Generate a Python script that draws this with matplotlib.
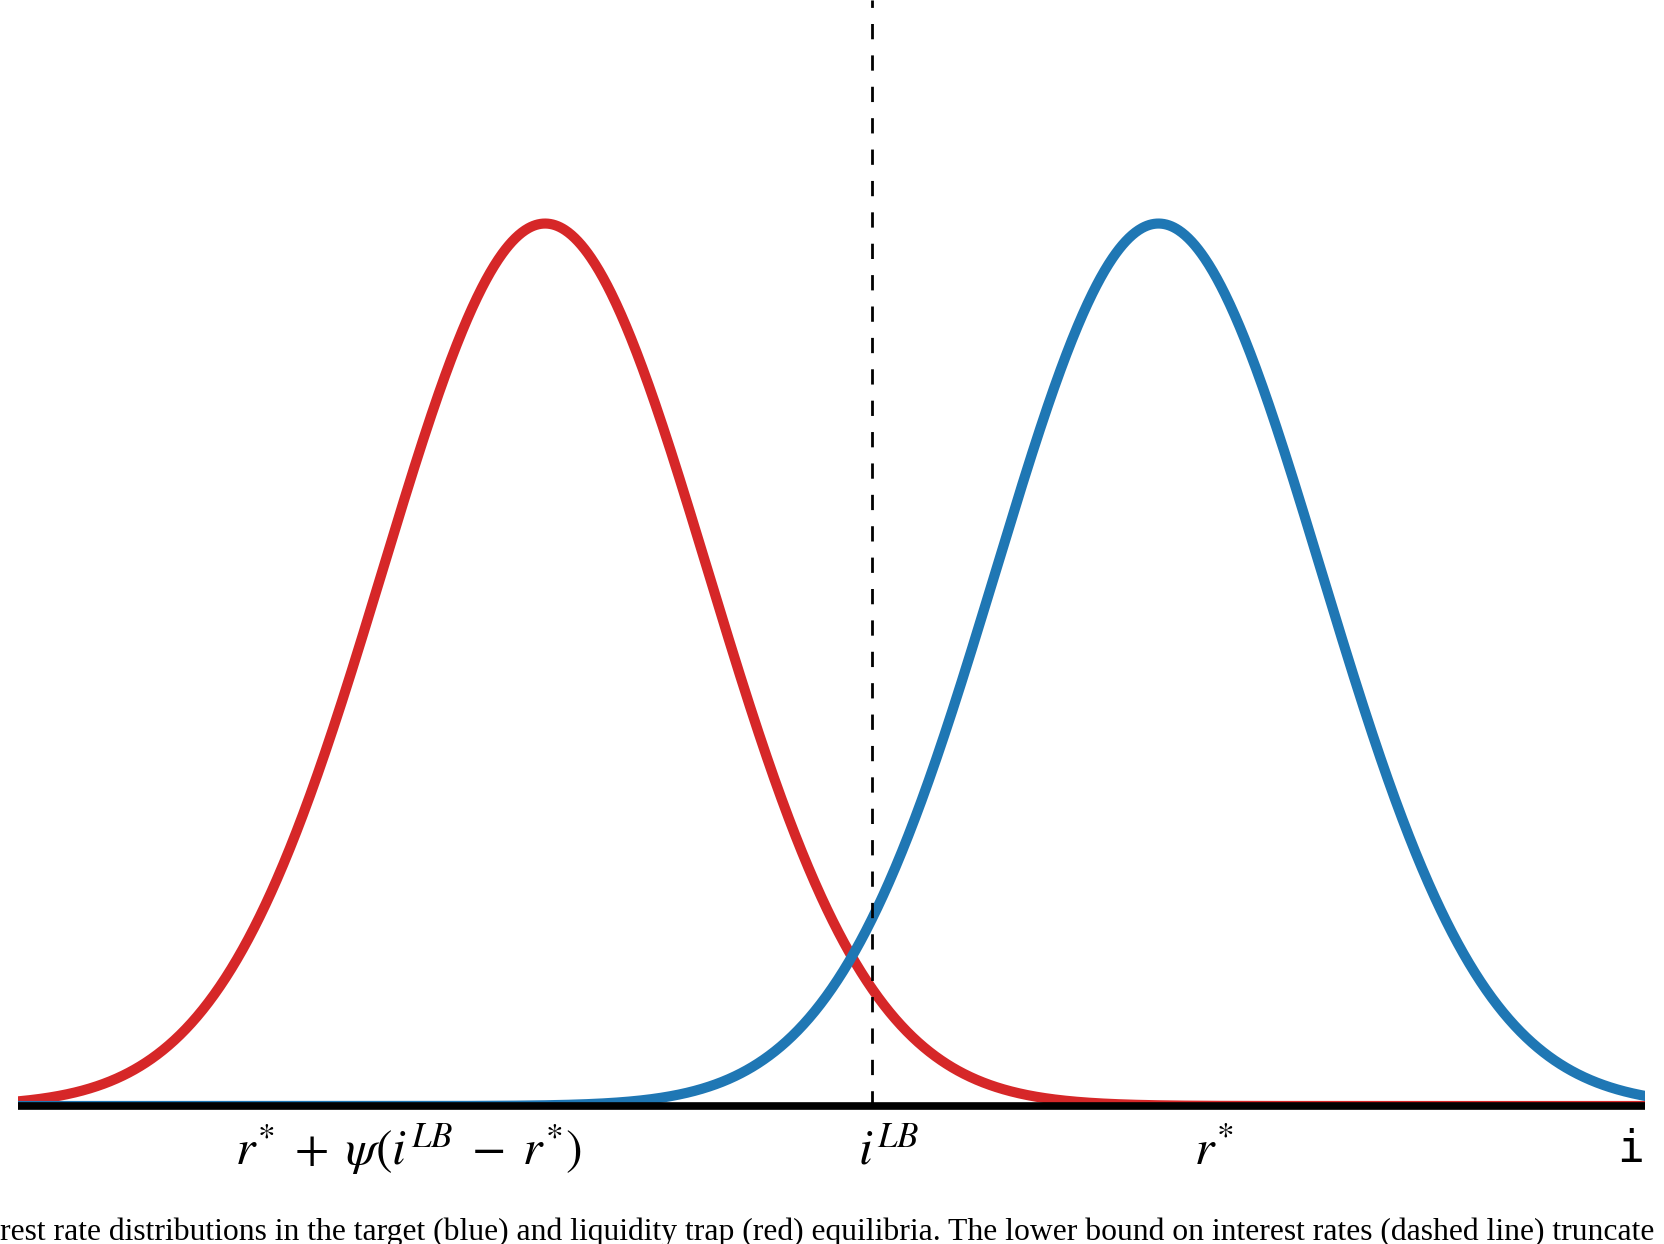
import numpy as np
import matplotlib.pyplot as plt

plt.rcParams['mathtext.fontset'] = 'stix'

# distribution parameters (x in arbitrary interest-rate units)
means = [3.24, 7.01]          # liquidity trap (red), target (blue)
sds = [1.0, 1.0]
colors = ['#d62728', '#1f77b4']
i_lb = 5.25

label_x = [2.40, 5.35, 7.35]
label_txt = [r'$r^{*}\;+\;\psi\left(i^{LB}\;-\;r^{*}\right)$', r'$i^{LB}$', r'$r^{*}$']

caption = ("rest rate distributions in the target (blue) and liquidity trap (red) "
           "equilibria. The lower bound on interest rates (dashed line) truncate")

fig = plt.figure(figsize=(16.64, 12.44), dpi=100)
ax = fig.add_axes([18/1664, 138/1244, 1627/1664, 1 - 138/1244])

x = np.linspace(0, 10, 2000)
for mu, sd, c in zip(means, sds, colors):
    pdf = np.exp(-0.5*((x - mu)/sd)**2) / (sd*np.sqrt(2*np.pi))
    ax.plot(x, pdf, color=c, lw=7.3)

ax.axvline(i_lb, color='k', lw=2, linestyle=(0, (5.5, 5.8)))

ax.set_xlim(0, 10)
ax.set_ylim(0, 0.5)
for s in ['top', 'left', 'right']:
    ax.spines[s].set_visible(False)
ax.spines['bottom'].set_linewidth(5.5)
ax.spines['bottom'].set_capstyle('butt')
ax.set_xticks([])
ax.set_yticks([])

ytxt = -(1165 - 1106) / 1106 * 0.5
for xx, t in zip(label_x, label_txt):
    ax.text(xx, ytxt, t, fontsize=36, ha='center', va='baseline')
ax.text(9.91, -(1162 - 1106) / 1106 * 0.5, 'i', family='DejaVu Sans Mono',
        fontsize=32, ha='center', va='baseline')

fig.text(0, 4/1244, caption, family='Liberation Serif', fontsize=22.8,
         ha='left', va='baseline')

fig.savefig('out.png', dpi=100)
